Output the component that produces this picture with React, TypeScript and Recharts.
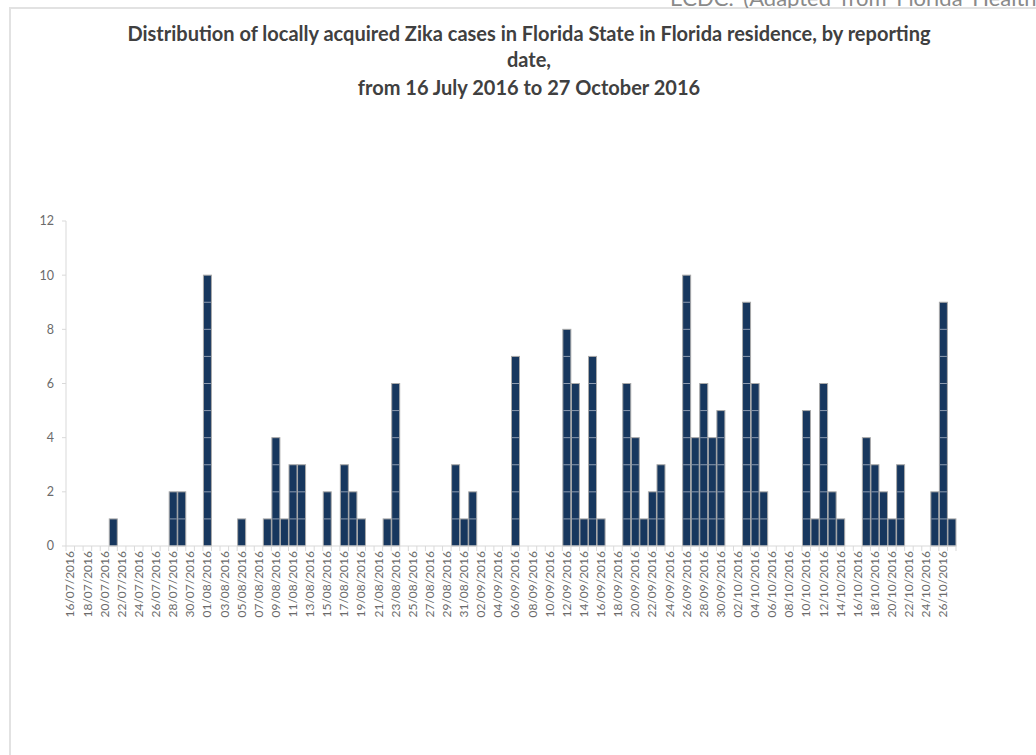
import { BarChart, Bar, XAxis, YAxis } from "recharts";

const dates = [
  "16/07/2016", "17/07/2016", "18/07/2016", "19/07/2016", "20/07/2016", "21/07/2016", "22/07/2016", "23/07/2016",
  "24/07/2016", "25/07/2016", "26/07/2016", "27/07/2016", "28/07/2016", "29/07/2016", "30/07/2016", "31/07/2016",
  "01/08/2016", "02/08/2016", "03/08/2016", "04/08/2016", "05/08/2016", "06/08/2016", "07/08/2016", "08/08/2016",
  "09/08/2016", "10/08/2016", "11/08/2016", "12/08/2016", "13/08/2016", "14/08/2016", "15/08/2016", "16/08/2016",
  "17/08/2016", "18/08/2016", "19/08/2016", "20/08/2016", "21/08/2016", "22/08/2016", "23/08/2016", "24/08/2016",
  "25/08/2016", "26/08/2016", "27/08/2016", "28/08/2016", "29/08/2016", "30/08/2016", "31/08/2016",
  "01/09/2016", "02/09/2016", "03/09/2016", "04/09/2016", "05/09/2016", "06/09/2016", "07/09/2016", "08/09/2016",
  "09/09/2016", "10/09/2016", "11/09/2016", "12/09/2016", "13/09/2016", "14/09/2016", "15/09/2016", "16/09/2016",
  "17/09/2016", "18/09/2016", "19/09/2016", "20/09/2016", "21/09/2016", "22/09/2016", "23/09/2016", "24/09/2016",
  "25/09/2016", "26/09/2016", "27/09/2016", "28/09/2016", "29/09/2016", "30/09/2016",
  "01/10/2016", "02/10/2016", "03/10/2016", "04/10/2016", "05/10/2016", "06/10/2016", "07/10/2016", "08/10/2016",
  "09/10/2016", "10/10/2016", "11/10/2016", "12/10/2016", "13/10/2016", "14/10/2016", "15/10/2016", "16/10/2016",
  "17/10/2016", "18/10/2016", "19/10/2016", "20/10/2016", "21/10/2016", "22/10/2016", "23/10/2016", "24/10/2016",
  "25/10/2016", "26/10/2016", "27/10/2016",
];

// cases per reporting day, one row per month
const julyCases = [0, 0, 0, 0, 0, 1, 0, 0, 0, 0, 0, 0, 2, 2, 0, 0];
const augustCases = [
  10, 0, 0, 0, 1, 0, 0, 1, 4, 1, 3, 3, 0, 0, 2, 0, 3, 2, 1, 0, 0, 1, 6, 0, 0, 0, 0, 0, 0, 3, 1,
];
const septemberCases = [
  2, 0, 0, 0, 0, 7, 0, 0, 0, 0, 0, 8, 6, 1, 7, 1, 0, 0, 6, 4, 1, 2, 3, 0, 0, 10, 4, 6, 4, 5,
];
const octoberCases = [
  0, 0, 9, 6, 2, 0, 0, 0, 0, 5, 1, 6, 2, 1, 0, 0, 4, 3, 2, 1, 3, 0, 0, 0, 2, 9, 1,
];

const yTicks = [0, 2, 4, 6, 8, 10, 12];

const titleLines = [
  "Distribution of locally acquired Zika cases in Florida State in Florida residence, by reporting",
  "date,",
  "from 16 July 2016 to 27 October 2016",
];

const sourceNote = "ECDC. (Adapted from Florida Health)";

const cases = [...julyCases, ...augustCases, ...septemberCases, ...octoberCases];
const data = dates.map((date, i) => ({ date, cases: cases[i] }));

const W = 1036;
const H = 755;
const PLOT_LEFT = 66;
const PLOT_RIGHT = 956;
const PLOT_TOP = 221;
const PLOT_BOTTOM = 546;
const X_AXIS_H = 70;
const BAND = (PLOT_RIGHT - PLOT_LEFT) / dates.length;

const FONT = "Lato, 'Open Sans', sans-serif";
const AXIS_GREY = "#d9d9d9";
const TEXT_GREY = "#6b6b6b";

// bar split into one block per case, like the original
function UnitBar(props: any) {
  const { x, y, width, height, payload } = props;
  const v = payload?.cases ?? 0;
  if (!v || height <= 0) return null;
  const lines = [];
  for (let k = 1; k < v; k++) {
    const ly = y + (height * k) / v;
    lines.push(
      <line key={k} x1={x + 1} x2={x + width - 1} y1={ly} y2={ly} stroke="#8d9bb0" strokeWidth={1} />,
    );
  }
  return (
    <g>
      <rect x={x + 0.5} y={y} width={width - 1} height={height} fill="#17375e" stroke="#a9a9a9" strokeWidth={1} />
      {lines}
    </g>
  );
}

function DateTick(props: any) {
  const { x, y, payload, index } = props;
  const left = x - BAND / 2;
  const isLast = index === dates.length - 1;
  return (
    <g>
      <line x1={left} x2={left} y1={PLOT_BOTTOM} y2={PLOT_BOTTOM + 5} stroke={AXIS_GREY} />
      {isLast && (
        <line x1={left + BAND} x2={left + BAND} y1={PLOT_BOTTOM} y2={PLOT_BOTTOM + 5} stroke={AXIS_GREY} />
      )}
      {index % 2 === 0 && (
        <text
          x={x}
          y={y}
          transform={`rotate(-90, ${x}, ${y})`}
          textAnchor="end"
          dy="0.35em"
          fontSize={12}
          fontFamily={FONT}
          fill={TEXT_GREY}
        >
          {payload.value}
        </text>
      )}
    </g>
  );
}

export default function App() {
  return (
    <div style={{ position: "fixed", left: 0, top: 0, width: W, height: H, overflow: "hidden", background: "#fff" }}>
      {/* page header from the source document, cut off at the top edge */}
      <svg width={W} height={8} style={{ position: "absolute", left: 0, top: 0, zIndex: 5 }}>
        <text x={670} y={6} fontSize={22} wordSpacing={4} fontFamily={FONT} fill="#8a8a8a">
          {sourceNote}
        </text>
      </svg>
      <div
        style={{
          position: "absolute",
          left: 9,
          top: 7,
          right: -2,
          bottom: -2,
          borderTop: "2px solid #e2e2e2",
          borderLeft: "2px solid #e2e2e2",
        }}
      />
      {titleLines.map((t, i) => (
        <div
          key={i}
          style={{
            position: "absolute",
            left: 529,
            top: [21, 47, 75][i],
            transform: "translateX(-50%)",
            whiteSpace: "nowrap",
            fontFamily: FONT,
            fontWeight: 700,
            fontSize: 20,
            lineHeight: "24px",
            color: "#404040",
          }}
        >
          {t}
        </div>
      ))}
      <div style={{ position: "absolute", left: 0, top: 0 }}>
        <BarChart
          width={W}
          height={H}
          data={data}
          barCategoryGap={0}
          margin={{ top: PLOT_TOP, right: W - PLOT_RIGHT, left: 0, bottom: H - PLOT_BOTTOM - X_AXIS_H }}
        >
          <XAxis
            dataKey="date"
            interval={0}
            height={X_AXIS_H}
            tickLine={false}
            tickSize={5}
            tickMargin={0}
            axisLine={{ stroke: AXIS_GREY }}
            tick={<DateTick />}
          />
          <YAxis
            width={PLOT_LEFT}
            domain={[0, 12]}
            ticks={yTicks}
            interval={0}
            tickSize={4}
            tickMargin={8}
            axisLine={{ stroke: AXIS_GREY }}
            tickLine={{ stroke: AXIS_GREY }}
            tick={{ fontSize: 12.5, fontFamily: FONT, fill: TEXT_GREY }}
          />
          <Bar dataKey="cases" shape={<UnitBar />} isAnimationActive={false} />
        </BarChart>
      </div>
    </div>
  );
}
